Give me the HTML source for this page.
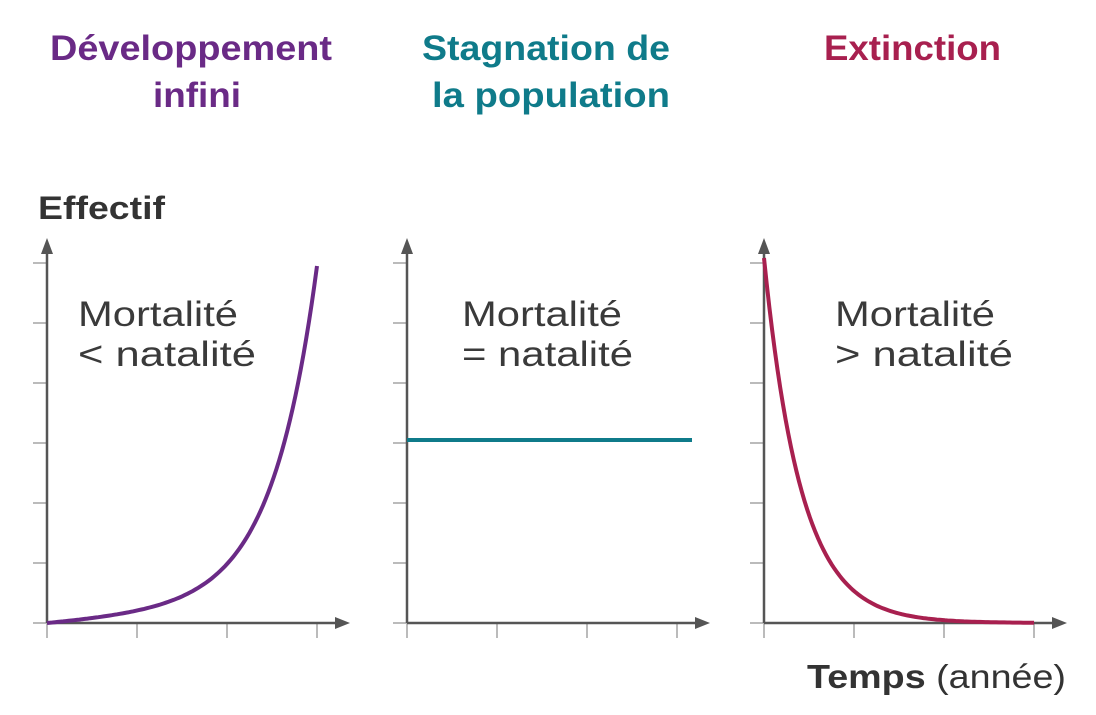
<!DOCTYPE html>
<html><head><meta charset="utf-8"><style>
body{margin:0;background:#fff}
svg{display:block}
text{font-family:"Liberation Sans",sans-serif}
</style></head><body>
<svg id="s" width="1096" height="715" viewBox="0 0 1096 715">
<g font-weight="bold" font-size="35" lengthAdjust="spacingAndGlyphs">
<text x="50" y="60" fill="#6a2a86" textLength="282" lengthAdjust="spacingAndGlyphs">Développement</text>
<text x="153" y="107" fill="#6a2a86" textLength="88" lengthAdjust="spacingAndGlyphs">infini</text>
<text x="422" y="60" fill="#0f7b8a" textLength="248" lengthAdjust="spacingAndGlyphs">Stagnation de</text>
<text x="432" y="107" fill="#0f7b8a" textLength="238" lengthAdjust="spacingAndGlyphs">la population</text>
<text x="824" y="60" fill="#a8204f" textLength="177" lengthAdjust="spacingAndGlyphs">Extinction</text>
</g>
<text x="38" y="219" font-size="32" font-weight="bold" fill="#333" textLength="127" lengthAdjust="spacingAndGlyphs">Effectif</text>
<text x="807" y="688" font-size="33" fill="#333" textLength="259" lengthAdjust="spacingAndGlyphs"><tspan font-weight="bold">Temps</tspan> (année)</text>
<g font-size="35" fill="#3a3a3a">
<text x="78" y="326" textLength="160" lengthAdjust="spacingAndGlyphs">Mortalité</text><text x="78" y="366" textLength="178" lengthAdjust="spacingAndGlyphs">&lt; natalité</text>
<text x="462" y="326" textLength="160" lengthAdjust="spacingAndGlyphs">Mortalité</text><text x="462" y="366" textLength="171" lengthAdjust="spacingAndGlyphs">= natalité</text>
<text x="835" y="326" textLength="160" lengthAdjust="spacingAndGlyphs">Mortalité</text><text x="835" y="366" textLength="178" lengthAdjust="spacingAndGlyphs">&gt; natalité</text>
</g>
<g id="axes"></g>
<line x1="407" y1="440" x2="692" y2="440" stroke="#0f7b8a" stroke-width="4"/>
<path id="c1" fill="none" stroke="#6a2a86" stroke-width="4"/>
<path id="c3" fill="none" stroke="#a8204f" stroke-width="4"/>
</svg>
<script>
var g=document.getElementById('axes'),h='';
[47,407,764].forEach(function(x0){
 for(var y=263;y<=623;y+=60)h+='<line x1="'+(x0-14)+'" y1="'+y+'" x2="'+x0+'" y2="'+y+'" stroke="#bbb" stroke-width="2"/>';
 for(var i=1;i<4;i++){var x=x0+90*i;h+='<line x1="'+x+'" y1="623" x2="'+x+'" y2="638" stroke="#bbb" stroke-width="2"/>';}
 h+='<line x1="'+x0+'" y1="623" x2="'+x0+'" y2="638" stroke="#bbb" stroke-width="2"/>';
 h+='<line x1="'+x0+'" y1="623" x2="'+x0+'" y2="250" stroke="#555" stroke-width="2.5"/>';
 h+='<polygon points="'+(x0-6)+',254 '+x0+',238 '+(x0+6)+',254" fill="#555"/>';
 h+='<line x1="'+x0+'" y1="623" x2="'+(x0+290)+'" y2="623" stroke="#555" stroke-width="2.5"/>';
 h+='<polygon points="'+(x0+288)+',617 '+(x0+303)+',623 '+(x0+288)+',629" fill="#555"/>';
});
g.innerHTML=h;
var p='';for(var i=0;i<=100;i++){var t=i/100,v=0.06*t+0.94*(Math.exp(6*t)-1)/(Math.exp(6)-1);p+=(i?'L':'M')+(47+270*t).toFixed(1)+','+(623-357*v).toFixed(1);}
document.getElementById('c1').setAttribute('d',p);
p='';for(var i=0;i<=100;i++){var t=i/100,v=Math.exp(-7.3*t);p+=(i?'L':'M')+(764+270*t).toFixed(1)+','+(623-365*v).toFixed(1);}
document.getElementById('c3').setAttribute('d',p);
</script>
</body></html>
